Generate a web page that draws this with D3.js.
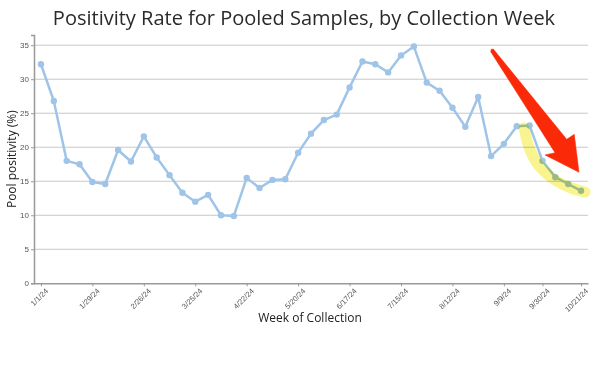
<!DOCTYPE html>
<html lang="en">
<head>
<meta charset="UTF-8">
<title>Positivity Rate for Pooled Samples</title>
<script src="https://cdn.jsdelivr.net/npm/d3@7"></script>
<style>
  body { margin: 0; background: #fff; }
  svg { display: block; font-family: "Open Sans", sans-serif; }
</style>
</head>
<body>
<svg width="600" height="372"></svg>
<script>
// collection weeks (categories)
var weeks = ["1/1/24","1/8/24","1/15/24","1/22/24","1/29/24","2/5/24","2/12/24","2/19/24","2/26/24",
  "3/4/24","3/11/24","3/18/24","3/25/24","4/1/24","4/8/24","4/15/24","4/22/24","4/29/24",
  "5/6/24","5/13/24","5/20/24","5/27/24","6/3/24","6/10/24","6/17/24","6/24/24",
  "7/1/24","7/8/24","7/15/24","7/22/24","7/29/24","8/5/24","8/12/24","8/19/24","8/26/24",
  "9/2/24","9/9/24","9/16/24","9/23/24","9/30/24","10/7/24","10/14/24","10/21/24"];

// pool positivity (%) per week
var positivity = [32.2, 26.8, 18.0, 17.5, 14.9, 14.6, 19.6, 17.9, 21.6, 18.5, 15.9, 13.3, 12.0,
  13.0, 10.0, 9.9, 15.5, 14.0, 15.2, 15.3, 19.2, 22.0, 24.0, 24.8, 28.8, 32.6, 32.2, 31.0,
  33.5, 34.8, 29.5, 28.3, 25.8, 23.0, 27.4, 18.7, 20.5, 23.1, 23.2, 18.0, 15.6, 14.6, 13.6];

// labelled ticks
var xTickLabels = ["1/1/24","1/29/24","2/26/24","3/25/24","4/22/24","5/20/24","6/17/24",
  "7/15/24","8/12/24","9/9/24","9/30/24","10/21/24"];
var yTicks = [0, 5, 10, 15, 20, 25, 30, 35];

var svg = d3.select("svg");
var plotLeft = 34, plotRight = 588, plotTop = 35, plotBottom = 283.3;

var x = d3.scalePoint()
    .domain(weeks)
    .range([plotLeft, plotRight])
    .padding(0.54);

var y = d3.scaleLinear()
    .domain([0, 36.5])
    .range([plotBottom, plotTop]);

// title
svg.append("text")
    .attr("x", 304)
    .attr("y", 25)
    .attr("text-anchor", "middle")
    .attr("font-size", "20px")
    .attr("fill", "#2a2a2a")
    .text("Positivity Rate for Pooled Samples, by Collection Week");

// grid lines
svg.append("g")
    .selectAll("line")
    .data(yTicks.slice(1))
    .enter().append("line")
    .attr("x1", plotLeft)
    .attr("x2", plotRight)
    .attr("y1", function (d) { return y(d); })
    .attr("y2", function (d) { return y(d); })
    .attr("stroke", "#c8c8c8")
    .attr("stroke-width", 1);

// y axis
var yAxis = svg.append("g")
    .attr("transform", "translate(" + plotLeft + ",0)")
    .call(d3.axisLeft(y).tickValues(yTicks).tickSize(3).tickPadding(2));
yAxis.select(".domain").attr("stroke", "#999").attr("stroke-width", 1.5);
yAxis.selectAll(".tick line").attr("stroke", "#999");
yAxis.selectAll(".tick text")
    .attr("fill", "#555")
    .attr("font-size", "8px")
    .attr("font-family", "Liberation Sans, sans-serif");

// x axis
var xAxis = svg.append("g")
    .attr("transform", "translate(0," + plotBottom + ")")
    .call(d3.axisBottom(x).tickValues(xTickLabels).tickSize(3).tickSizeOuter(0));
xAxis.select(".domain").attr("stroke", "#999").attr("stroke-width", 1.5);
xAxis.selectAll(".tick line").attr("stroke", "#999");
xAxis.selectAll(".tick text")
    .attr("fill", "#555")
    .attr("font-size", "7.6px")
    .attr("font-family", "Liberation Sans, sans-serif")
    .attr("text-anchor", "end")
    .attr("dy", "0")
    .attr("transform", "translate(3,4) rotate(-45)");

// axis titles
svg.append("text")
    .attr("transform", "translate(16," + ((plotTop + plotBottom) / 2) + ") rotate(-90)")
    .attr("text-anchor", "middle")
    .attr("font-size", "12px")
    .attr("fill", "#222")
    .text("Pool positivity (%)");

svg.append("text")
    .attr("x", 310)
    .attr("y", 322)
    .attr("text-anchor", "middle")
    .attr("font-size", "12px")
    .attr("fill", "#222")
    .text("Week of Collection");

// series line + points
var line = d3.line()
    .x(function (d, i) { return x(weeks[i]); })
    .y(function (d) { return y(d); });

svg.append("path")
    .datum(positivity)
    .attr("d", line)
    .attr("fill", "none")
    .attr("stroke", "#9fc4e7")
    .attr("stroke-width", 2.5)
    .attr("stroke-linejoin", "round");

svg.append("g")
    .selectAll("circle")
    .data(positivity)
    .enter().append("circle")
    .attr("cx", function (d, i) { return x(weeks[i]); })
    .attr("cy", function (d) { return y(d); })
    .attr("r", 3.2)
    .attr("fill", "#9fc4e7");

// highlighter stroke over the recent decline
var highlight = [[524, 128], [530, 150], [540, 167], [555, 180], [571, 188], [585, 192]];
svg.append("path")
    .attr("d", d3.line().curve(d3.curveCatmullRom)(highlight))
    .attr("fill", "none")
    .attr("stroke", "#faf37c")
    .attr("stroke-width", 11)
    .attr("stroke-linecap", "round")
    .attr("opacity", 0.85)
    .style("mix-blend-mode", "multiply");

// red arrow
var arrow = [[490.7, 51.7], [491.2, 49.3], [493.3, 49.0], [566.7, 139.3], [574.3, 134.3],
  [579, 172.3], [545, 155], [555, 152.7]];
svg.append("path")
    .attr("d", "M" + arrow.join("L") + "Z")
    .attr("fill", "#fa2a08")
    .attr("stroke", "#fa2a08")
    .attr("stroke-width", 0.5)
    .attr("stroke-linejoin", "round");
</script>
</body>
</html>
